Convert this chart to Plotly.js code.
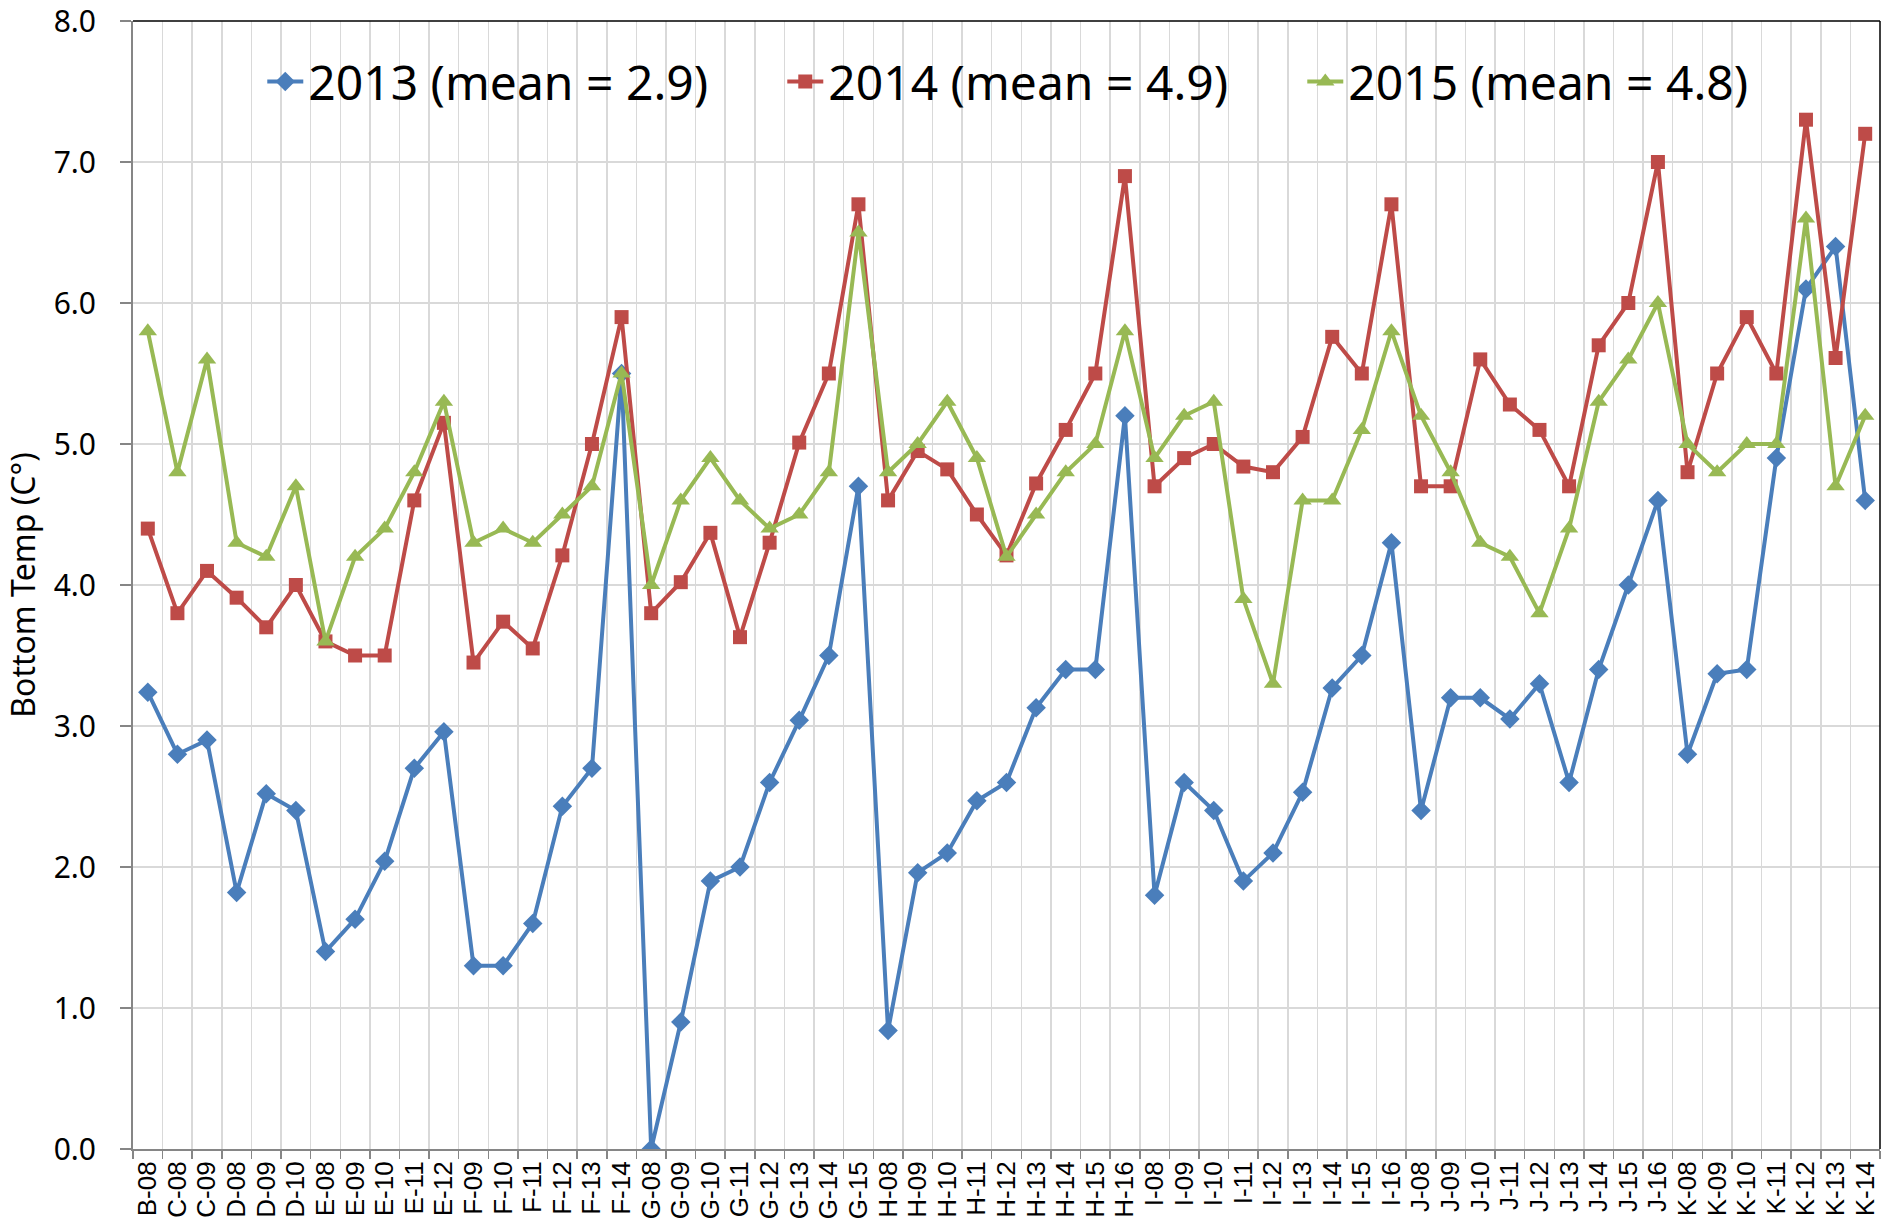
<!DOCTYPE html>
<html>
<head>
<meta charset="utf-8">
<script src="https://cdn.plot.ly/plotly-3.0.1.min.js"></script>
<style>
  html, body { margin: 0; padding: 0; background: #ffffff; }
  #chart { width: 1883px; height: 1225px; }
</style>
</head>
<body>
<div id="chart"></div>
<script>
const categories = ["B-08","C-08","C-09","D-08","D-09","D-10","E-08","E-09","E-10","E-11","E-12",
  "F-09","F-10","F-11","F-12","F-13","F-14",
  "G-08","G-09","G-10","G-11","G-12","G-13","G-14","G-15",
  "H-08","H-09","H-10","H-11","H-12","H-13","H-14","H-15","H-16",
  "I-08","I-09","I-10","I-11","I-12","I-13","I-14","I-15","I-16",
  "J-08","J-09","J-10","J-11","J-12","J-13","J-14","J-15","J-16",
  "K-08","K-09","K-10","K-11","K-12","K-13","K-14"];

const temp2013 = [3.24,2.80,2.90,1.82,2.52,2.40,1.40,1.63,2.04,2.70,2.96,
  1.30,1.30,1.60,2.43,2.70,5.50,
  0.00,0.90,1.90,2.00,2.60,3.04,3.50,4.70,
  0.84,1.96,2.10,2.47,2.60,3.13,3.40,3.40,5.20,
  1.80,2.60,2.40,1.90,2.10,2.53,3.27,3.50,4.30,
  2.40,3.20,3.20,3.05,3.30,2.60,3.40,4.00,4.60,
  2.80,3.37,3.40,4.90,6.10,6.40,4.60];

const temp2014 = [4.40,3.80,4.10,3.91,3.70,4.00,3.60,3.50,3.50,4.60,5.15,
  3.45,3.74,3.55,4.21,5.00,5.90,
  3.80,4.02,4.37,3.63,4.30,5.01,5.50,6.70,
  4.60,4.95,4.82,4.50,4.21,4.72,5.10,5.50,6.90,
  4.70,4.90,5.00,4.84,4.80,5.05,5.76,5.50,6.70,
  4.70,4.70,5.60,5.28,5.10,4.70,5.70,6.00,7.00,
  4.80,5.50,5.90,5.50,7.30,5.61,7.20];

const temp2015 = [5.80,4.80,5.60,4.30,4.20,4.70,3.60,4.20,4.40,4.80,5.30,
  4.30,4.40,4.30,4.50,4.70,5.50,
  4.00,4.60,4.90,4.60,4.40,4.50,4.80,6.50,
  4.80,5.00,5.30,4.90,4.20,4.50,4.80,5.00,5.80,
  4.90,5.20,5.30,3.90,3.30,4.60,4.60,5.10,5.80,
  5.20,4.80,4.30,4.20,3.80,4.40,5.30,5.60,6.00,
  5.00,4.80,5.00,5.00,6.60,4.70,5.20];

const seriesNames = ["2013 (mean = 2.9)", "2014 (mean = 4.9)", "2015 (mean = 4.8)"];
const yTitle = "Bottom Temp (C°)";

const traces = [
  {x: categories, y: temp2013, name: seriesNames[0], type: "scatter", mode: "lines+markers",
   line: {color: "#4A7EBB", width: 4}, marker: {symbol: "diamond", size: 15, color: "#4A7EBB"}},
  {x: categories, y: temp2014, name: seriesNames[1], type: "scatter", mode: "lines+markers",
   line: {color: "#BE4B48", width: 4}, marker: {symbol: "square", size: 14, color: "#BE4B48"}},
  {x: categories, y: temp2015, name: seriesNames[2], type: "scatter", mode: "lines+markers",
   line: {color: "#98B954", width: 4}, marker: {symbol: "triangle-up", size: 16, color: "#98B954"}}
];

const layout = {
  width: 1883, height: 1225,
  paper_bgcolor: "#ffffff", plot_bgcolor: "#ffffff",
  margin: {l: 133, r: 3, t: 21, b: 76, pad: 0},
  showlegend: true,
  legend: {
    orientation: "h", x: 0.074, y: 0.946, xanchor: "left", yanchor: "middle",
    font: {family: "Noto Sans, Open Sans, sans-serif", size: 48, color: "#000000"},
    bgcolor: "rgba(0,0,0,0)", entrywidth: 469, entrywidthmode: "pixels",
    itemwidth: 36, tracegroupgap: 0
  },
  xaxis: {
    type: "category", range: [-0.5, categories.length - 0.5],
    tickmode: "linear", tick0: 0, dtick: 1,
    tickson: "boundaries", ticks: "outside", ticklen: 8, tickwidth: 1.5, tickcolor: "#868686",
    showgrid: true, gridcolor: "#D9D9D9", gridwidth: 1.5,
    showline: true, linecolor: "#868686", linewidth: 2,
    tickangle: -90, tickfont: {family: "Liberation Sans, Arial, sans-serif", size: 26, color: "#000000"},
    ticklabeloverflow: "allow",
    automargin: false, zeroline: false
  },
  yaxis: {
    range: [0, 8], tickmode: "linear", dtick: 1, tick0: 0, tickformat: ".1f",
    ticks: "outside", ticklen: 11, tickwidth: 1.5, tickcolor: "#868686",
    showgrid: true, gridcolor: "#D9D9D9", gridwidth: 1.5,
    showline: true, linecolor: "#868686", linewidth: 2, zeroline: false,
    tickfont: {family: "Noto Sans, Open Sans, sans-serif", size: 30, color: "#000000"},
    ticklabelstandoff: 18, ticklabeloverflow: "allow",
    title: {text: yTitle, font: {family: "Noto Sans, Open Sans, sans-serif", size: 32, color: "#000000"}, standoff: 8},
    automargin: false
  },
  shapes: [
    {type: "line", xref: "paper", yref: "paper", x0: 0, x1: 1, y0: 1, y1: 1, line: {color: "#000000", width: 1.5}},
    {type: "line", xref: "paper", yref: "paper", x0: 1, x1: 1, y0: 0, y1: 1, line: {color: "#000000", width: 1.5}}
  ]
};

Plotly.newPlot("chart", traces, layout, {displayModeBar: false, staticPlot: true});
</script>
</body>
</html>
